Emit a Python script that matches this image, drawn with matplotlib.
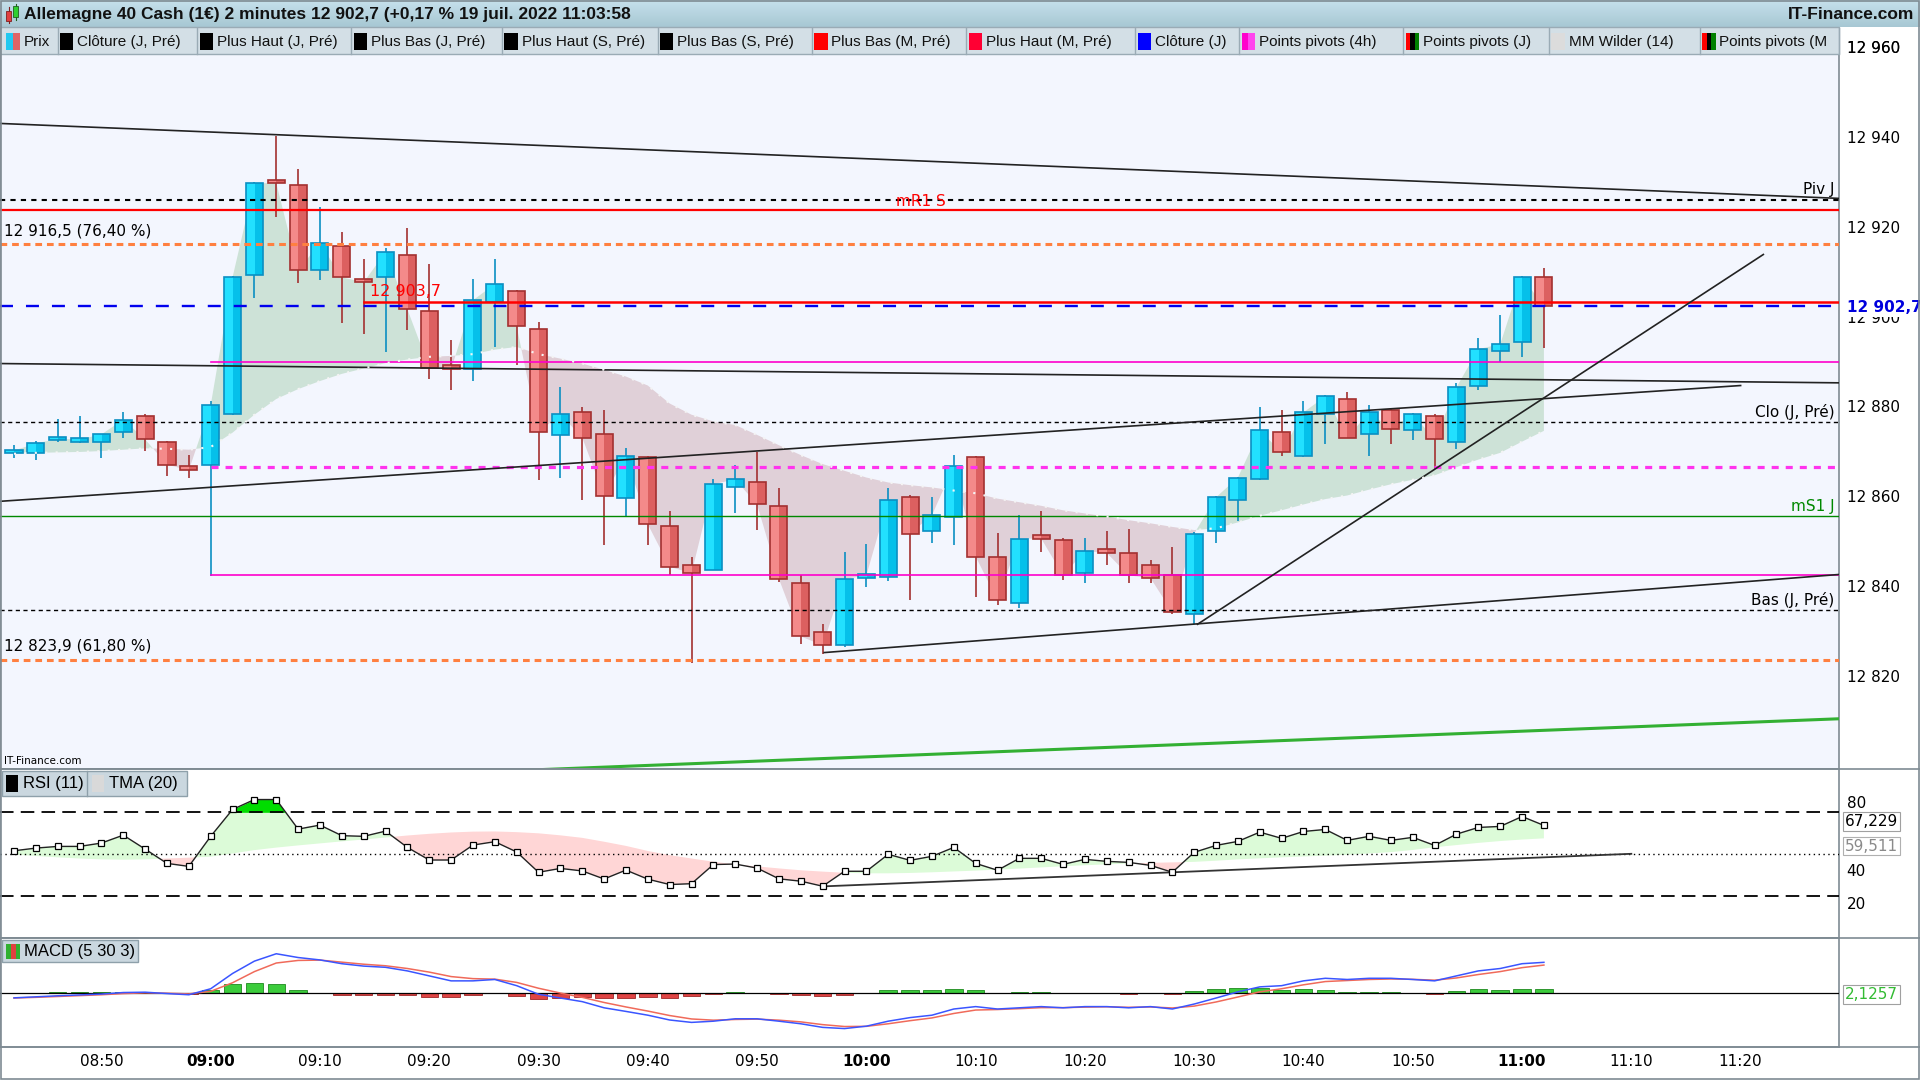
import numpy as np
import matplotlib.pyplot as plt
from matplotlib import font_manager
from matplotlib.patches import Rectangle
from matplotlib.colors import LinearSegmentedColormap

# ---------------- data ----------------
# candle index: one candle = 2 minutes, 0 = 09:00
candle_idx = np.arange(-9, 62)

opens = [12870.0, 12870.0, 12872.8, 12872.5, 12872.5, 12874.6, 12878.1, 12872.5, 12867.0,
         12867.4, 12878.6, 12909.6, 12930.7, 12929.6, 12910.7, 12916.0, 12908.7, 12909.1, 12914.0,
         12901.5, 12889.5, 12888.6, 12903.6, 12906.0, 12897.5, 12874.0, 12879.0, 12874.1, 12860.0,
         12869.0, 12853.6, 12845.0, 12844.0, 12862.4, 12863.6, 12858.1, 12841.0, 12830.0, 12827.1,
         12842.2, 12842.4, 12860.1, 12852.6, 12855.6, 12869.0, 12846.9, 12836.5, 12851.6, 12850.5,
         12843.2, 12848.5, 12847.6, 12844.9, 12842.7, 12834.2, 12852.6, 12859.6, 12864.1, 12874.6,
         12869.4, 12878.6, 12882.1, 12874.1, 12879.5, 12875.0, 12878.1, 12872.5, 12885.0, 12892.7,
         12894.6, 12909.1]
highs = [12871.8, 12872.6, 12877.5, 12878.2, 12874.3, 12879.1, 12878.6, 12872.6, 12869.5,
         12881.5, 12909.3, 12930.3, 12940.6, 12933.3, 12924.8, 12919.1, 12913.2, 12915.6, 12920.1,
         12912.1, 12895.1, 12908.7, 12913.2, 12906.2, 12899.1, 12884.7, 12880.2, 12879.5, 12871.1,
         12869.2, 12857.0, 12846.8, 12864.2, 12867.2, 12870.3, 12862.1, 12842.7, 12831.8, 12848.0,
         12849.7, 12862.1, 12860.6, 12860.1, 12869.5, 12869.2, 12852.1, 12856.1, 12857.0, 12851.0,
         12851.1, 12852.6, 12853.0, 12846.2, 12849.0, 12852.3, 12860.3, 12864.7, 12880.2, 12879.5,
         12881.5, 12883.0, 12883.5, 12880.6, 12880.1, 12878.8, 12878.6, 12885.5, 12895.5, 12900.7,
         12909.3, 12911.2]
lows = [12868.8, 12868.4, 12872.5, 12872.3, 12868.9, 12873.4, 12870.5, 12864.9, 12864.4,
        12842.6, 12878.4, 12904.5, 12922.6, 12907.9, 12908.6, 12899.0, 12896.5, 12892.5, 12897.4,
        12886.5, 12884.1, 12886.1, 12893.5, 12889.5, 12863.9, 12864.4, 12859.5, 12849.4, 12855.9,
        12849.5, 12842.7, 12823.1, 12843.8, 12856.6, 12852.9, 12841.3, 12827.5, 12825.1, 12826.8,
        12840.0, 12841.5, 12837.2, 12849.9, 12849.4, 12837.8, 12836.1, 12835.5, 12848.0, 12841.6,
        12841.0, 12845.0, 12841.0, 12841.0, 12834.0, 12831.8, 12849.9, 12854.9, 12863.9, 12869.3,
        12869.0, 12872.0, 12873.2, 12869.4, 12872.0, 12872.9, 12866.5, 12870.9, 12884.1, 12890.2,
        12891.4, 12893.4]
closes = [12870.5, 12872.1, 12873.1, 12873.0, 12874.1, 12877.4, 12873.0, 12867.4, 12866.1,
          12880.6, 12909.1, 12930.1, 12930.1, 12910.7, 12916.7, 12909.1, 12908.0, 12914.7, 12902.0,
          12889.0, 12888.6, 12904.0, 12907.6, 12898.2, 12874.6, 12878.6, 12873.4, 12860.4, 12869.4,
          12854.1, 12844.6, 12843.2, 12863.0, 12864.1, 12858.5, 12841.9, 12829.1, 12827.1, 12841.9,
          12842.7, 12859.6, 12852.0, 12856.1, 12867.0, 12846.9, 12837.2, 12850.9, 12850.9, 12842.7,
          12848.1, 12847.7, 12842.7, 12842.1, 12834.5, 12852.0, 12860.1, 12864.5, 12875.0, 12870.1,
          12879.0, 12882.6, 12873.4, 12879.0, 12875.4, 12878.6, 12873.0, 12884.6, 12893.1, 12894.2,
          12909.1, 12902.7]
mm_wilder = [12869.8, 12870.0, 12870.1, 12870.2, 12870.4, 12870.7, 12871.0, 12870.9, 12870.7,
             12871.3, 12874.5, 12878.5, 12882.0, 12884.2, 12886.0, 12887.6, 12888.8, 12890.0, 12890.8,
             12891.4, 12891.6, 12892.0, 12893.0, 12893.6, 12892.0, 12891.0, 12889.9, 12888.5, 12887.0,
             12885.0, 12881.0, 12878.5, 12877.0, 12876.2, 12874.0, 12871.7, 12869.5, 12867.5, 12866.0,
             12864.5, 12863.4, 12862.8, 12862.3, 12861.6, 12861.0, 12859.8, 12859.0, 12858.2, 12857.2,
             12856.5, 12855.8, 12855.0, 12854.3, 12853.5, 12852.8, 12853.2, 12854.5, 12856.0, 12857.2,
             12858.5, 12859.7, 12860.5, 12861.8, 12863.0, 12864.0, 12865.0, 12866.8, 12868.5, 12870.0,
             12872.5, 12874.9]

rsi = [52.1, 53.7, 54.7, 54.7, 56.7, 61.4, 53.1, 44.6, 42.8,
       60.7, 76.7, 82.6, 82.6, 65.0, 67.4, 61.1, 60.7, 63.8, 54.1,
       46.6, 46.6, 55.5, 57.5, 51.4, 39.3, 41.6, 40.1, 35.3, 40.6,
       35.2, 32.0, 32.5, 43.9, 44.2, 41.8, 35.4, 34.0, 31.0, 39.9,
       39.9, 50.0, 46.4, 48.8, 54.1, 44.6, 40.5, 47.6, 47.6, 44.0,
       47.0, 45.8, 45.2, 43.4, 39.3, 51.2, 55.3, 57.7, 63.2, 59.5,
       63.6, 64.8, 58.3, 60.7, 58.3, 60.1, 55.3, 62.0, 66.0, 66.6,
       72.5, 67.2]
tma = [49.8, 49.0, 48.2, 47.5, 47.0, 46.8, 47.0, 47.5, 48.0,
       48.6, 50.5, 52.5, 54.0, 55.3, 56.5, 57.7, 58.8, 60.0, 61.2,
       62.2, 63.0, 63.5, 63.6, 63.2, 62.5, 61.3, 59.8, 57.5, 55.0,
       52.0, 49.5, 47.5, 45.6, 44.0, 42.8, 41.6, 40.5, 39.7, 39.0,
       38.7, 38.7, 38.9, 39.3, 39.8, 40.3, 40.9, 41.5, 42.2, 42.9,
       43.5, 44.0, 44.5, 44.9, 45.2, 45.5, 46.2, 47.0, 47.6, 48.2,
       48.7, 49.2, 49.7, 50.5, 51.3, 52.6, 54.2, 55.5, 56.8, 57.9,
       58.8, 59.5]

macd = [-2.8, -2.2, -1.6, -1.1, -0.6, 0.3, 0.5, -0.3, -1.0,
        2.5, 11.4, 18.6, 22.9, 20.7, 19.3, 17.1, 15.7, 15.0, 12.9,
        10.0, 7.1, 7.1, 7.9, 4.3, -0.7, -2.9, -5.0, -8.6, -10.7,
        -12.9, -15.7, -17.1, -16.4, -15.0, -15.0, -16.4, -17.9, -20.0, -20.7,
        -19.3, -16.4, -14.3, -12.9, -9.3, -7.9, -9.3, -8.6, -7.9, -8.6,
        -7.9, -7.9, -8.6, -7.9, -9.3, -6.4, -2.9, 0.7, 3.6, 4.3,
        7.1, 8.6, 7.9, 8.6, 8.6, 7.9, 7.1, 10.0, 12.9, 14.3,
        17.1, 17.9]
signal = [-2.9, -2.5, -2.0, -1.5, -1.0, -0.3, 0.1, -0.1, -0.5,
          1.0, 6.0, 12.5, 17.5, 19.0, 19.2, 18.0, 16.8, 15.9, 14.3,
          12.2, 9.6, 8.4, 8.1, 6.2, 2.8, 0.0, -2.5, -5.5, -8.1,
          -10.5, -13.1, -15.1, -15.8, -15.4, -15.2, -15.8, -16.8, -18.4, -19.5,
          -19.4, -17.9, -16.1, -14.5, -11.9, -9.9, -9.6, -9.1, -8.5, -8.5,
          -8.2, -8.0, -8.3, -8.1, -8.7, -7.6, -5.2, -2.3, 0.7, 2.5,
          4.8, 6.7, 7.3, 7.9, 8.2, 8.0, 7.5, 8.8, 10.8, 12.5,
          14.8, 16.3]
hist = [0.2, 0.3, 0.4, 0.4, 0.4, 0.6, 0.4, -0.2, -0.5,
        1.5, 5.4, 6.1, 5.4, 1.7, 0.1, -0.9, -1.1, -0.9, -1.4,
        -2.2, -2.5, -1.3, -0.2, -1.9, -3.5, -2.9, -2.5, -3.1, -2.6,
        -2.4, -2.6, -2.0, -0.6, 0.4, 0.2, -0.6, -1.1, -1.6, -1.2,
        0.1, 1.5, 1.8, 1.6, 2.6, 2.0, 0.3, 0.5, 0.6, -0.1,
        0.3, 0.1, -0.3, 0.2, -0.6, 1.2, 2.3, 3.0, 2.9, 1.8,
        2.3, 1.9, 0.6, 0.7, 0.4, -0.1, -0.4, 1.2, 2.1, 1.8,
        2.3, 2.1]

# horizontal levels
piv_j = 12926.4
mr1_s = 12924.2
fibo_76 = 12916.5
haut_m = 12903.7
cloture_j = 12902.7
piv4h_a = 12890.2
clo_j_pre = 12876.8
piv4h_b = 12866.9
ms1_j = 12855.9
piv4h_c = 12842.7
bas_j_pre = 12835.0
fibo_61 = 12823.9

# trend lines (candle index, price)
tl_top = ([-9.64, 74.51], [12943.4, 12926.7])
tl_flat = ([-9.64, 74.51], [12889.9, 12885.6])
tl_rise = ([-9.64, 70.0], [12859.2, 12885.0])
tl_low = ([28.07, 74.51], [12825.5, 12842.9])
tl_steep = ([45.15, 71.04], [12831.8, 12914.2])
tl_green = ([-9.64, 74.51], [12794.7, 12810.75])
rsi_trend = ([28.0, 65.0], [30.9, 50.3])

price_ticks = [12960, 12940, 12920, 12900, 12880, 12860, 12840, 12820]
price_labels = ['12 960', '12 940', '12 920', '12 900', '12 880', '12 860', '12 840', '12 820']
time_ticks = [-5, 0, 5, 10, 15, 20, 25, 30, 35, 40, 45, 50, 55, 60, 65, 70]
time_labels = ['08:50', '09:00', '09:10', '09:20', '09:30', '09:40', '09:50', '10:00',
               '10:10', '10:20', '10:30', '10:40', '10:50', '11:00', '11:10', '11:20']
bold_times = ['09:00', '10:00', '11:00']

legend_names = ['Prix', 'Clôture (J, Pré)', 'Plus Haut (J, Pré)', 'Plus Bas (J, Pré)',
                'Plus Haut (S, Pré)', 'Plus Bas (S, Pré)', 'Plus Bas (M, Pré)', 'Plus Haut (M, Pré)',
                'Clôture (J)', 'Points pivots (4h)', 'Points pivots (J)', 'MM Wilder (14)',
                'Points pivots (M']
legend_colors = [['#22c8f0', '#e06464'], ['black'], ['black'], ['black'], ['black'], ['black'],
                 ['#ff0000'], ['#ff0033'], ['#0000ff'], ['#ff00cc', '#ff44ee'],
                 ['#ff0000', 'black', '#008000'], ['#dcdcdc'], ['#ff0000', 'black', '#008000']]

# ---------------- fonts / figure ----------------
names = {f.name for f in font_manager.fontManager.ttflist}
narrow = 'Liberation Sans Narrow' if 'Liberation Sans Narrow' in names else 'Liberation Sans'
NF = [narrow, 'DejaVu Sans']
plt.rcParams['font.family'] = ['DejaVu Sans']

W, H = 1568, 882


def box(x0, y0, x1, y1):
    return [x0 / W, 1 - y1 / H, (x1 - x0) / W, (y1 - y0) / H]


fig = plt.figure(figsize=(19.2, 10.8), dpi=100, facecolor='white')
ax = fig.add_axes(box(0, 44, 1502, 628))
rax = fig.add_axes(box(0, 628, 1502, 766))
mx = fig.add_axes(box(0, 766, 1502, 855))

XL = (-9.64, 74.51)
x = candle_idx
c = np.array(closes)
m = np.array(mm_wilder)

# ---------------- price panel ----------------
ax.set_facecolor('#f3f6fe')
ax.set_xlim(XL)
ax.set_ylim(12799.56, 12958.9)
ax.fill_between(x, c, m, where=c >= m, interpolate=True, color='#cde2d7', lw=0, zorder=1)
ax.fill_between(x, c, m, where=c < m, interpolate=True, color='#e0d0d8', lw=0, zorder=1)

for xi, o, h, l, cl in zip(x, opens, highs, lows, closes):
    up = cl >= o
    edge = '#0b8fc2' if up else '#a33030'
    light = '#22e0ff' if up else '#f48a8a'
    dark = '#05c0ea' if up else '#dc6060'
    ax.vlines(xi, l, h, color=edge, lw=1.2, zorder=2)
    b = min(o, cl)
    hh = max(abs(cl - o), 0.7)
    ax.add_patch(Rectangle((xi - 0.39, b), 0.78, hh, facecolor=dark, edgecolor='none', zorder=3))
    ax.add_patch(Rectangle((xi - 0.39, b), 0.4, hh, facecolor=light, edgecolor='none', zorder=3))
    ax.add_patch(Rectangle((xi - 0.39, b), 0.78, hh, facecolor='none', edgecolor=edge, lw=1.2, zorder=3))

ax.plot(x, m, color='#f4f4f4', lw=1.5, ls=(0, (1, 4)), zorder=6)

L = dict(zorder=5)
ax.plot(XL, [piv_j, piv_j], color='black', lw=1.5, ls=(0, (2.5, 2.5)), **L)
ax.plot(XL, [mr1_s, mr1_s], color='#ff0000', lw=1.6, **L)
ax.plot(XL, [fibo_76, fibo_76], color='#ff8040', lw=2.2, ls=(0, (2.2, 1.6)), **L)
ax.plot([7.0, XL[1]], [haut_m, haut_m], color='#ff0000', lw=1.8, **L)
ax.plot(XL, [cloture_j, cloture_j], color='#0000ee', lw=1.7, ls=(0, (5.5, 5.5)), **L)
ax.plot([0, XL[1]], [piv4h_a, piv4h_a], color='#ff00cc', lw=1.2, **L)
ax.plot(XL, [clo_j_pre, clo_j_pre], color='black', lw=1.0, ls=(0, (3, 2.5)), **L)
ax.plot([0, XL[1]], [piv4h_b, piv4h_b], color='#ff33ee', lw=2.3, ls=(0, (2.2, 2.2)), **L)
ax.plot(XL, [ms1_j, ms1_j], color='#008800', lw=1.0, **L)
ax.plot([0, XL[1]], [piv4h_c, piv4h_c], color='#ff00cc', lw=1.2, **L)
ax.plot(XL, [bas_j_pre, bas_j_pre], color='black', lw=1.0, ls=(0, (3, 2.5)), **L)
ax.plot(XL, [fibo_61, fibo_61], color='#ff8040', lw=2.2, ls=(0, (2.2, 1.6)), **L)

for tl in (tl_top, tl_flat, tl_rise, tl_low, tl_steep):
    ax.plot(tl[0], tl[1], color='#222222', lw=1.2, zorder=5)
ax.plot(tl_green[0], tl_green[1], color='#33b033', lw=2.2, zorder=5)

yt = ax.get_yaxis_transform()
tk = dict(fontsize=11, transform=yt, clip_on=False, zorder=7)
ax.text(0.002, fibo_76 + 1.3, '12 916,5 (76,40 %)', ha='left', va='bottom', **tk)
ax.text(0.002, fibo_61 + 1.3, '12 823,9 (61,80 %)', ha='left', va='bottom', **tk)
ax.text(7.3, haut_m + 0.6, '12 903,7', color='#ff0000', fontsize=11.5, ha='left', va='bottom', zorder=7)
ax.text(32.5, mr1_s + 0.2, 'mR1 S', color='#ff0000', fontsize=11, ha='center', va='bottom', zorder=7)
ax.text(0.9973, piv_j + 0.5, 'Piv J', ha='right', va='bottom', **tk)
ax.text(0.9973, clo_j_pre + 0.5, 'Clo (J, Pré)', ha='right', va='bottom', **tk)
ax.text(0.9973, ms1_j + 0.5, 'mS1 J', ha='right', va='bottom', color='#008800', **tk)
ax.text(0.9973, bas_j_pre + 0.5, 'Bas (J, Pré)', ha='right', va='bottom', **tk)
ax.text(0.002, 0.004, 'IT-Finance.com', transform=ax.transAxes, fontsize=7.5, ha='left', va='bottom')

for v, lab in zip(price_ticks, price_labels):
    ax.text(1.004, v, lab, ha='left', va='center', **tk)
ax.text(1.004, cloture_j - 0.3, '12 902,7', ha='left', va='center', color='#0000dd',
        fontweight='bold', fontsize=11, transform=yt, clip_on=False, zorder=8,
        bbox=dict(boxstyle='square,pad=0.12', facecolor='white', edgecolor='none'))

# ---------------- RSI panel ----------------
r = np.array(rsi)
t = np.array(tma)
rax.set_facecolor('white')
rax.set_xlim(XL)
rax.set_ylim(0.2, 100.8)
rax.fill_between(x, r, t, where=r >= t, interpolate=True, color='#dcfbd8', lw=0, zorder=1)
rax.fill_between(x, r, t, where=r < t, interpolate=True, color='#ffd6d6', lw=0, zorder=1)
rax.fill_between(x, r, 75, where=r >= 75, interpolate=True, color='#00dd00', lw=0, zorder=2)
rax.axhline(75, color='black', lw=1.3, ls=(0, (7.5, 4)), zorder=3)
rax.axhline(25, color='black', lw=1.3, ls=(0, (7.5, 4)), zorder=3)
rax.axhline(50, color='black', lw=1.0, ls=(0, (1, 2.5)), zorder=3)
rax.plot(rsi_trend[0], rsi_trend[1], color='#333333', lw=1.3, zorder=4)
rax.plot(x, r, color='#222222', lw=1.0, marker='s', ms=4.2, mfc='white', mec='black', mew=0.9, zorder=5)
ryt = rax.get_yaxis_transform()
for v in (80, 40, 20):
    rax.text(1.004, v, str(v), ha='left', va='center', fontsize=11, transform=ryt, clip_on=False)
rax.text(1.003, r[-1] + 2.3, '67,229', ha='left', va='center', fontsize=11, transform=ryt, clip_on=False,
         bbox=dict(boxstyle='square,pad=0.12', facecolor='white', edgecolor='#a0a0a0', lw=0.8))
rax.text(1.003, t[-1] - 4.6, '59,511', ha='left', va='center', fontsize=11, color='#8a8a8a',
         transform=ryt, clip_on=False,
         bbox=dict(boxstyle='square,pad=0.12', facecolor='white', edgecolor='#b0b0b0', lw=0.8))

# ---------------- MACD panel ----------------
hv = np.array(hist)
mx.set_facecolor('white')
mx.set_xlim(XL)
mx.set_ylim(-31.4, 32.1)
mx.bar(x, hv, width=0.8, color=np.where(hv >= 0, '#3ccc3c', '#e04444'),
       edgecolor=np.where(hv >= 0, '#1e8a1e', '#a02828'), lw=0.6, zorder=2)
mx.axhline(0, color='black', lw=0.9, zorder=3)
mx.plot(x, signal, color='#f06a5a', lw=1.1, zorder=4)
mx.plot(x, macd, color='#3a55ff', lw=1.1, zorder=5)
mx.text(1.003, hv[-1] - 2.8, '2,1257', ha='left', va='center', fontsize=11, color='#33bb33',
        transform=mx.get_yaxis_transform(), clip_on=False,
        bbox=dict(boxstyle='square,pad=0.12', facecolor='white', edgecolor='#a0a0a0', lw=0.8))

for a in (ax, rax, mx):
    a.set_yticks([])
    a.tick_params(axis='x', length=0)
    for s in a.spines.values():
        s.set_color('#7f8b93')
        s.set_linewidth(1.2)
ax.set_xticks([])
rax.set_xticks([])
mx.set_xticks(time_ticks)
mx.set_xticklabels(time_labels, fontsize=11)
mx.tick_params(axis='x', pad=5)
for lab in mx.get_xticklabels():
    if lab.get_text() in bold_times:
        lab.set_fontweight('bold')

# ---------------- decorations in pixel space ----------------
ov = fig.add_axes([0, 0, 1, 1])
ov.set_xlim(0, W)
ov.set_ylim(H, 0)
ov.axis('off')
ov.patch.set_alpha(0)

grad = np.linspace(0, 1, 50).reshape(-1, 1)
ov.imshow(grad, extent=(0, W, 22, 0), aspect='auto',
          cmap=LinearSegmentedColormap.from_list('bar', ['#c6e1ec', '#a7c7d3']), zorder=1)
ov.add_patch(Rectangle((0, 22), 1502, 22, facecolor='#d3dfe6', edgecolor='#9aabb5', lw=1, zorder=1))
ov.text(1508, 40, price_labels[0], fontsize=11, ha='left', va='center', zorder=3)

# title icon
ov.add_patch(Rectangle((5, 9), 4, 8, facecolor='#e04040', edgecolor='#802020', lw=0.6, zorder=2))
ov.add_patch(Rectangle((11, 5), 4, 9, facecolor='#30d030', edgecolor='#206020', lw=0.6, zorder=2))
ov.plot([7, 7], [6, 19], color='#802020', lw=0.8, zorder=1.5)
ov.plot([13, 13], [3, 16], color='#206020', lw=0.8, zorder=1.5)
ov.text(20, 11.5, 'Allemagne 40 Cash (1€) 2 minutes 12 902,7 (+0,17 % 19 juil. 2022 11:03:58',
        family=NF, fontweight='bold', fontsize=12.5, ha='left', va='center', color='#111111')
ov.text(1563, 11.5, 'IT-Finance.com', family=NF, fontweight='bold', fontsize=12.5,
        ha='right', va='center', color='#111111')

legend_edges = [3, 47, 161, 287, 410, 537, 663, 789, 927, 1012, 1146, 1265, 1388, 1502]
for k, (name, cols) in enumerate(zip(legend_names, legend_colors)):
    x0 = legend_edges[k]
    x1 = legend_edges[k + 1]
    ov.plot([x1, x1], [23, 44], color='#9aabb5', lw=1, zorder=2)
    n = len(cols)
    for j, col in enumerate(cols):
        ov.add_patch(Rectangle((x0 + 2 + j * 11 / n, 27), 11 / n, 14, facecolor=col, edgecolor='none', zorder=3))
    txt = ov.text(x0 + 16, 34, name, family=NF, fontsize=11, ha='left', va='center',
                  color='#111111', zorder=3)
    txt.set_clip_path(Rectangle((0, 22), 1502, 22, transform=ov.transData))

# panel separators and outer frame
for yy in (628, 766, 855):
    ov.plot([0, W], [yy, yy], color='#7f8b93', lw=1.2, zorder=2)
ov.add_patch(Rectangle((0.5, 0.5), W - 1, H - 1, facecolor='none', edgecolor='#7f8b93', lw=1.2, zorder=2))

# RSI legend
ov.add_patch(Rectangle((2, 630), 151, 20, facecolor='#cad7df', edgecolor='#8ea0aa', lw=1, zorder=3))
ov.plot([71, 71], [630, 650], color='#8ea0aa', lw=1, zorder=4)
ov.add_patch(Rectangle((5, 633), 10, 14, facecolor='black', zorder=4))
ov.text(19, 640, 'RSI (11)', family=NF, fontsize=12, ha='left', va='center', zorder=4)
ov.add_patch(Rectangle((75, 633), 10, 14, facecolor='#d9d9d9', zorder=4))
ov.text(89, 640, 'TMA (20)', family=NF, fontsize=12, ha='left', va='center', zorder=4)

# MACD legend
ov.add_patch(Rectangle((2, 768), 111, 18, facecolor='#cad7df', edgecolor='#8ea0aa', lw=1, zorder=3))
ov.add_patch(Rectangle((5, 771), 4, 12, facecolor='#30b030', zorder=4))
ov.add_patch(Rectangle((9, 771), 4, 12, facecolor='#e04040', zorder=4))
ov.add_patch(Rectangle((13, 771), 3, 12, facecolor='#30b030', zorder=4))
ov.text(20, 777, 'MACD (5 30 3)', family=NF, fontsize=12, ha='left', va='center', zorder=4)

fig.savefig('out.png', dpi=100, facecolor='white')
